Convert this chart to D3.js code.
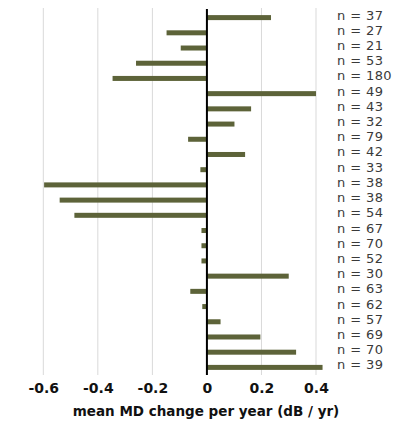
<!DOCTYPE html>
<html><head><meta charset="utf-8">
<script src="https://cdn.jsdelivr.net/npm/d3@7"></script>
<style>body{margin:0;background:#fff}svg{display:block}</style>
</head><body>
<script>
const groups = ["37","27","21","53","180","49","43","32","79","42","33","38","38b","54","67","70","52","30","63","62","57","69","70b","39"];
const nLabels = ["n = 37","n = 27","n = 21","n = 53","n = 180","n = 49","n = 43","n = 32","n = 79","n = 42","n = 33","n = 38","n = 38","n = 54","n = 67","n = 70","n = 52","n = 30","n = 63","n = 62","n = 57","n = 69","n = 70","n = 39"];
const values = [0.235,-0.148,-0.096,-0.26,-0.346,0.40,0.162,0.101,-0.069,0.14,-0.024,-0.597,-0.54,-0.486,-0.02,-0.02,-0.02,0.30,-0.061,-0.017,0.05,0.196,0.327,0.424];
const ticks = [-0.6,-0.4,-0.2,0,0.2,0.4];
const tickLabels = ["-0.6","-0.4","-0.2","0","0.2","0.4"];
const xTitle = "mean MD change per year (dB / yr)";

const W=397,H=422;
const svg=d3.select("body").append("svg").attr("width",W).attr("height",H);
const x=d3.scaleLinear().domain([-0.6,0.4]).range([43.3,316]);
const y=d3.scaleBand().domain(groups).range([10,375]).padding(0);
const barH=5;

svg.append("g").selectAll("line").data(ticks.filter(t=>t!==0)).join("line")
  .attr("x1",d=>x(d)).attr("x2",d=>x(d)).attr("y1",8).attr("y2",375)
  .attr("stroke","#d9d9d9").attr("stroke-width",1);

svg.append("g").selectAll("rect").data(values).join("rect")
  .attr("x",d=>Math.min(x(0),x(d))).attr("width",d=>Math.abs(x(d)-x(0)))
  .attr("y",(d,i)=>y(groups[i])+y.bandwidth()/2-barH/2).attr("height",barH)
  .attr("fill","#5d6339");

svg.append("line").attr("x1",x(0)).attr("x2",x(0)).attr("y1",9).attr("y2",375)
  .attr("stroke","#000").attr("stroke-width",2);

svg.append("g").selectAll("text").data(nLabels).join("text")
  .attr("x",337).attr("y",(d,i)=>y(groups[i])+y.bandwidth()/2-2.5)
  .attr("dominant-baseline","central")
  .attr("font-family","DejaVu Sans").attr("font-size",13).attr("letter-spacing",0.4).attr("fill","#3a3a3a")
  .text(d=>d);

const ax=svg.append("g").attr("transform","translate(0,375)")
  .call(d3.axisBottom(x).tickValues(ticks).tickSize(0).tickPadding(8).tickFormat((d,i)=>tickLabels[i]));
ax.select(".domain").remove();
ax.selectAll("text").attr("font-family","DejaVu Sans").attr("font-weight","bold").attr("font-size",14).attr("fill","#111");

svg.append("text").attr("x",206).attr("y",416).attr("text-anchor","middle")
  .attr("font-family","DejaVu Sans").attr("font-weight","bold").attr("font-size",13.5).attr("fill","#111")
  .text(xTitle);
</script>
</body></html>
